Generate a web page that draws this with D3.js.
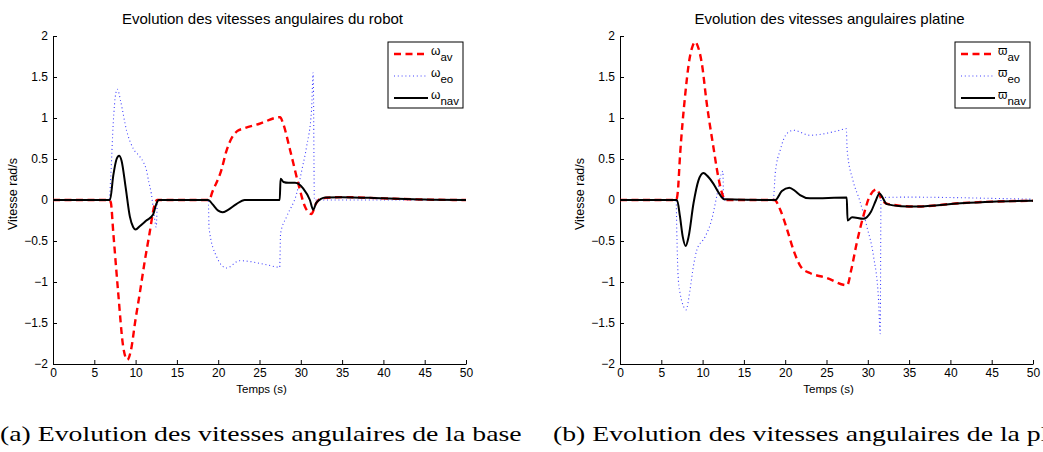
<!DOCTYPE html>
<html>
<head>
<meta charset="utf-8">
<script src="https://d3js.org/d3.v7.min.js"></script>
<style>
  body { margin: 0; background: #fff; }
  svg { display: block; }
</style>
</head>
<body>
<div id="container"></div>
<script>
// time (s) / velocity (rad/s) pairs
var robotAv = [[0,0],[6.8,0],[7.0,-0.03],[7.3,-0.4],[7.9,-1.14],[8.5,-1.79],[9.0,-1.95],[9.4,-1.85],[10.0,-1.45],[10.5,-1.14],[11.1,-0.75],[11.7,-0.4],[12.2,-0.1],[12.6,0],[18.9,0],[19.3,0.1],[20.4,0.37],[21.0,0.6],[21.6,0.75],[22.3,0.84],[23.0,0.87],[25,0.93],[27.5,1.01],[27.8,0.95],[28.7,0.61],[29.7,0.2],[30.5,-0.08],[31.3,-0.17],[31.8,-0.05],[32.5,0.02],[35,0.035],[40,0.02],[45,0.005],[50,0]];
var robotEo = [[0,0],[6.8,0],[7.0,0.3],[7.3,0.95],[7.6,1.3],[7.8,1.35],[8.2,1.2],[8.9,0.85],[9.7,0.63],[10.5,0.53],[11.0,0.45],[11.3,0.37],[11.6,0.22],[11.9,0.08],[12.2,-0.15],[12.5,-0.33],[12.65,0],[18.8,0],[18.9,-0.35],[19.8,-0.69],[21.0,-0.83],[22.6,-0.74],[25.9,-0.79],[27.45,-0.82],[27.55,-0.41],[28.3,-0.2],[29.5,0.08],[30.2,0.4],[30.7,0.65],[31.3,1.1],[31.5,1.55],[31.65,0],[50,0]];
var robotNav = [[0,0],[6.9,0],[7.3,0.3],[7.7,0.5],[8.0,0.54],[8.3,0.48],[8.8,0.15],[9.3,-0.2],[9.7,-0.33],[10.0,-0.36],[10.5,-0.32],[11.3,-0.25],[12.1,-0.18],[12.5,-0.05],[12.8,0],[18.8,0],[19.3,-0.05],[20.0,-0.13],[20.5,-0.15],[21.2,-0.12],[22.2,-0.05],[23.2,0],[27.45,0],[27.55,0.26],[27.9,0.22],[28.5,0.21],[29.3,0.21],[30.3,0.14],[31.1,0],[31.5,-0.12],[31.9,-0.03],[33,0.03],[35,0.035],[40,0.02],[45,0.005],[50,0]];

var platineAv = [[0,0],[6.8,0],[7.0,0.1],[7.26,0.53],[7.87,1.26],[8.4,1.71],[8.8,1.88],[9.1,1.93],[9.4,1.88],[9.9,1.67],[10.5,1.18],[11.3,0.65],[11.9,0.28],[12.5,0.04],[12.8,0],[18.7,0],[19.4,-0.12],[20.2,-0.35],[21.0,-0.61],[22.0,-0.83],[23.0,-0.89],[25,-0.95],[27.5,-1.04],[28.0,-0.85],[28.65,-0.53],[29.45,-0.2],[30.3,0.06],[31.1,0.13],[31.7,0.0],[32.5,-0.05],[35.9,-0.08],[41,-0.04],[45,-0.02],[50,-0.01]];
var platineEo = [[0,0],[6.8,0],[6.87,-0.36],[7.06,-0.97],[7.3,-1.15],[7.7,-1.3],[8.0,-1.34],[8.47,-1.1],[8.9,-0.8],[9.3,-0.61],[10.3,-0.45],[11.1,-0.24],[11.7,0.04],[12.3,0.33],[12.45,0.35],[12.55,0],[18.55,0],[18.8,0.33],[19.4,0.61],[20.2,0.81],[21.0,0.85],[23.0,0.79],[26.2,0.84],[27.4,0.87],[27.5,0.61],[28.2,0.24],[29.0,0],[29.9,-0.33],[30.7,-0.69],[31.3,-1.22],[31.5,-1.63],[31.6,0.03],[35,0.035],[40,0.03],[45,0.02],[50,0.01]];
var platineNav = [[0,0],[6.9,0],[7.26,-0.2],[7.6,-0.45],[7.95,-0.56],[8.3,-0.45],[8.9,-0.04],[9.5,0.24],[10.1,0.33],[10.7,0.28],[11.3,0.2],[12.0,0.08],[12.6,0.01],[18.8,0],[19.6,0.11],[20.5,0.15],[21.2,0.11],[21.8,0.06],[23.0,0.02],[27.45,0.03],[27.55,-0.25],[28.1,-0.21],[29.45,-0.23],[30.4,-0.14],[31.0,0.0],[31.4,0.08],[32.3,-0.05],[34,-0.075],[35.9,-0.08],[41.2,-0.04],[45,-0.02],[50,-0.01]];

var xTicks = [0,5,10,15,20,25,30,35,40,45,50];
var yTicks = [-2,-1.5,-1,-0.5,0,0.5,1,1.5,2];
var seriesKeys = ["av", "eo", "nav"];
var titles = ["Evolution des vitesses angulaires du robot", "Evolution des vitesses angulaires platine"];
var symbols = ["\u03C9", "\u03D6"];
var captions = ["(a) Evolution des vitesses angulaires de la base", "(b) Evolution des vitesses angulaires de la platine"];

var W = 1043, H = 452;
var SANS = "'Liberation Sans', Arial, sans-serif";
var svg = d3.select("#container").append("svg").attr("width", W).attr("height", H);

var styles = {
  av:  { stroke: "#ff0000", width: 2.4, dash: "7,4.5" },
  eo:  { stroke: "#4040ff", width: 1.1, dash: "1,2.8" },
  nav: { stroke: "#000000", width: 2, dash: null }
};

function drawPanel(left, title, sym, data) {
  var top = 36, bottom = 364, width = 413;
  var x = d3.scaleLinear().domain([0, 50]).range([left, left + width]);
  var y = d3.scaleLinear().domain([-2, 2]).range([bottom, top]);
  var g = svg.append("g").style("font-family", SANS);

  g.append("g")
    .attr("transform", "translate(0," + bottom + ")")
    .call(d3.axisBottom(x).tickValues(xTicks).tickFormat(d3.format("~g"))
      .tickSizeInner(-4).tickSizeOuter(0).tickPadding(4))
    .call(function(a) {
      a.select(".domain").attr("stroke", "#000");
      a.selectAll("text").style("font-size", "12px").style("font-family", SANS).attr("fill", "#000");
    });
  g.append("g")
    .attr("transform", "translate(" + left + ",0)")
    .call(d3.axisLeft(y).tickValues(yTicks).tickFormat(d3.format("~g"))
      .tickSizeInner(-4).tickSizeOuter(0).tickPadding(5))
    .call(function(a) {
      a.selectAll("text").style("font-size", "12px").style("font-family", SANS).attr("fill", "#000");
    });

  var line = d3.line()
    .x(function(d) { return x(d[0]); })
    .y(function(d) { return y(d[1]); })
    .curve(d3.curveMonotoneX);

  ["eo", "av", "nav"].forEach(function(k) {
    var s = styles[k];
    g.append("path")
      .datum(data[k])
      .attr("d", line)
      .attr("fill", "none")
      .attr("stroke", s.stroke)
      .attr("stroke-width", s.width)
      .attr("stroke-dasharray", s.dash)
      .attr("stroke-linejoin", "round");
  });

  g.append("text")
    .attr("x", left + width / 2 + 3).attr("y", 24)
    .attr("text-anchor", "middle").style("font-size", "15px")
    .text(title);
  g.append("text")
    .attr("x", left + width / 2 + 2).attr("y", 393)
    .attr("text-anchor", "middle").style("font-size", "11.5px")
    .text("Temps (s)");
  g.append("text")
    .attr("transform", "translate(" + (left - 36) + ",194) rotate(-90)")
    .attr("text-anchor", "middle").style("font-size", "12.5px")
    .text("Vitesse rad/s");

  // legend
  var lx = left + width - 78, ly = 42;
  var lg = g.append("g");
  lg.append("rect").attr("x", lx).attr("y", ly).attr("width", 75).attr("height", 66)
    .attr("fill", "#fff").attr("stroke", "#000").attr("stroke-width", 1);
  seriesKeys.forEach(function(k, i) {
    var s = styles[k];
    var yy = ly + 12 + i * 22;
    lg.append("line")
      .attr("x1", lx + 6).attr("x2", lx + 40).attr("y1", yy).attr("y2", yy)
      .attr("stroke", s.stroke).attr("stroke-width", s.width)
      .attr("stroke-dasharray", s.dash);
    var t = lg.append("text").attr("x", lx + 43).attr("y", yy + 1).style("font-size", "12px");
    t.append("tspan").text(sym);
    t.append("tspan").attr("dy", 6).style("font-size", "11.5px").text(k);
  });
}

drawPanel(53, titles[0], symbols[0], { av: robotAv, eo: robotEo, nav: robotNav });
drawPanel(620, titles[1], symbols[1], { av: platineAv, eo: platineEo, nav: platineNav });

// sub-figure captions, stretched horizontally to the serif width of the original
var SERIF = "'Liberation Serif', 'DejaVu Serif', serif";
var capA = svg.append("text").attr("x", 0).attr("y", 441)
  .style("font-family", SERIF).style("font-size", "22px").attr("fill", "#000")
  .text(captions[0]);
var natural = capA.node().getComputedTextLength();
var sx = 522 / natural;
capA.attr("transform", "scale(" + sx + ",1)");
svg.append("text").attr("x", 553 / sx).attr("y", 441)
  .attr("transform", "scale(" + sx + ",1)")
  .style("font-family", SERIF).style("font-size", "22px").attr("fill", "#000")
  .text(captions[1]);
</script>
</body>
</html>
